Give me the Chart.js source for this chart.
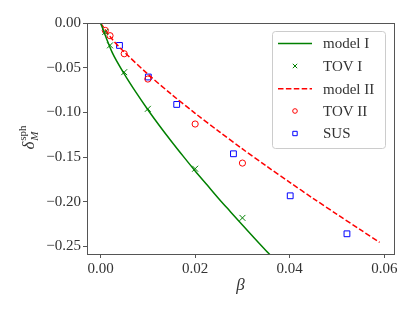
<!DOCTYPE html>
<html><head><meta charset="utf-8">
<script src="https://cdn.jsdelivr.net/npm/chart.js@4/dist/chart.umd.min.js"></script>
<style>html,body{margin:0;padding:0;background:#fff}#wrap{width:415px;height:311px}</style>
</head><body><div id="wrap"><canvas id="c" width="415" height="311"></canvas></div>
<script>
// ---- data ----
const modelIBeta  = [0, 0.0025, 0.005, 0.0075, 0.01, 0.0125, 0.015, 0.0175, 0.02, 0.0225, 0.025, 0.0275, 0.03, 0.0325, 0.035, 0.037];
const modelIDelta = [0, -0.0334, -0.0569, -0.0777, -0.097, -0.1152, -0.1325, -0.1492, -0.1655, -0.181, -0.1965, -0.2113, -0.226, -0.2405, -0.2547, -0.2655];
const tovIBeta  = [0.001, 0.002, 0.005, 0.01, 0.02, 0.03];
const tovIDelta = [-0.010, -0.025, -0.055, -0.096, -0.163, -0.218];
const modelIIBeta  = [0, 0.0025, 0.005, 0.01, 0.015, 0.02, 0.025, 0.03, 0.035, 0.04, 0.045, 0.05, 0.055, 0.059];
const modelIIDelta = [0, -0.0184, -0.0324, -0.0572, -0.0798, -0.101, -0.1212, -0.1409, -0.1598, -0.1782, -0.1964, -0.214, -0.2315, -0.2453];
const tovIIBeta  = [0.001, 0.002, 0.005, 0.01, 0.02, 0.03];
const tovIIDelta = [-0.0083, -0.0142, -0.0344, -0.0627, -0.113, -0.1567];
const susBeta  = [0.004, 0.0101, 0.0161, 0.0281, 0.0401, 0.0521];
const susDelta = [-0.0251, -0.0604, -0.0911, -0.1463, -0.1933, -0.2358];
const xTicks = [0, 0.02, 0.04, 0.06];
const yTicks = [0, -0.05, -0.10, -0.15, -0.20, -0.25];
const seriesLabels = ['model I', 'TOV I', 'model II', 'TOV II', 'SUS'];

const pts = (xs, ys) => xs.map((x, i) => ({x: x, y: ys[i]}));
const FONT = "'Liberation Serif', 'Times New Roman', serif";
const TXT = '#333333';
const AX = '#555555';
const fmt = v => { const s = Math.abs(v).toFixed(2); return (v < -1e-9 ? '\u2212' : '') + s; };

const frame = {
  id: 'frame',
  afterDraw(chart) {
    const {ctx, chartArea: a} = chart;
    ctx.save();
    ctx.strokeStyle = AX; ctx.lineWidth = 1;
    ctx.strokeRect(a.left + 0.5, a.top + 0.5, a.right - a.left, a.bottom - a.top);
    // axis titles
    ctx.fillStyle = TXT;
    ctx.textBaseline = 'middle'; ctx.textAlign = 'center';
    ctx.font = "italic 17px " + FONT;
    ctx.fillText('\u03B2', (a.left + a.right) / 2, 286);
    // y title: delta_M^sph
    ctx.translate(30, (a.top + a.bottom) / 2 - 1);
    ctx.rotate(-Math.PI / 2);
    ctx.textAlign = 'left'; ctx.textBaseline = 'alphabetic';
    ctx.font = "italic 17px " + FONT;
    const wd = ctx.measureText('\u03B4').width;
    ctx.font = "11px " + FONT;
    const ws = ctx.measureText('sph').width;
    const x0 = -(wd + ws + 1) / 2;
    ctx.font = "italic 17px " + FONT;
    ctx.fillText('\u03B4', x0, 4);
    ctx.font = "11px " + FONT;
    ctx.fillText('sph', x0 + wd + 1, -4);
    ctx.font = "italic 11px " + FONT;
    ctx.fillText('M', x0 + wd + 1, 8);
    ctx.restore();

    // legend
    const L = 272.5, T = 31.5, R = 385.5, B = 148.5;
    ctx.save();
    ctx.beginPath();
    ctx.roundRect(L, T, R - L, B - T, 3);
    ctx.fillStyle = 'rgba(255,255,255,0.8)'; ctx.fill();
    ctx.strokeStyle = '#cccccc'; ctx.lineWidth = 1; ctx.stroke();
    const rows = [43.5, 66, 88.8, 111, 133.5];
    const ds = chart.data.datasets;
    ds.forEach((d, i) => {
      const y = rows[i];
      ctx.save();
      if (d.showLine) {
        ctx.strokeStyle = d.borderColor; ctx.lineWidth = d.borderWidth;
        ctx.setLineDash(d.borderDash || []);
        ctx.beginPath(); ctx.moveTo(278, y); ctx.lineTo(312, y); ctx.stroke();
      } else {
        ctx.strokeStyle = d.borderColor; ctx.lineWidth = 1;
        const cx = 295;
        ctx.beginPath();
        if (d.pointStyle === 'crossRot') {
          ctx.moveTo(cx - 2.2, y - 2.2); ctx.lineTo(cx + 2.2, y + 2.2);
          ctx.moveTo(cx - 2.2, y + 2.2); ctx.lineTo(cx + 2.2, y - 2.2);
        } else if (d.pointStyle === 'circle') {
          ctx.arc(cx, y, 2.3, 0, Math.PI * 2);
        } else {
          ctx.rect(cx - 2.2, y - 2.2, 4.4, 4.4);
        }
        ctx.stroke();
      }
      ctx.restore();
      ctx.fillStyle = TXT; ctx.font = "15px " + FONT;
      ctx.textAlign = 'left'; ctx.textBaseline = 'middle';
      ctx.fillText(d.label, 323, y + 1);
    });
    ctx.restore();
  }
};

new Chart(document.getElementById('c'), {
  type: 'scatter',
  data: {
    datasets: [
      {label: seriesLabels[0], data: pts(modelIBeta, modelIDelta), showLine: true, borderColor: '#008000', borderWidth: 1.5, pointRadius: 0, pointHoverRadius: 0, fill: false, tension: 0.3},
      {label: seriesLabels[1], data: pts(tovIBeta, tovIDelta), showLine: false, pointStyle: 'crossRot', pointRadius: 4.2, borderColor: '#008000', backgroundColor: '#008000', pointBorderWidth: 1},
      {label: seriesLabels[2], data: pts(modelIIBeta, modelIIDelta), showLine: true, borderColor: '#ff0000', borderWidth: 1.5, borderDash: [5.5, 2.4], pointRadius: 0, pointHoverRadius: 0, fill: false, tension: 0.3},
      {label: seriesLabels[3], data: pts(tovIIBeta, tovIIDelta), showLine: false, pointStyle: 'circle', pointRadius: 3.1, borderColor: '#ff0000', backgroundColor: 'rgba(0,0,0,0)', pointBorderWidth: 1},
      {label: seriesLabels[4], data: pts(susBeta, susDelta), showLine: false, pointStyle: 'rect', pointRadius: 4.1, borderColor: '#0000ff', backgroundColor: 'rgba(0,0,0,0)', pointBorderWidth: 1}
    ]
  },
  options: {
    responsive: false, animation: false, devicePixelRatio: 1,
    layout: {padding: {left: 0, right: 21, top: 23, bottom: 0}},
    plugins: {legend: {display: false}, tooltip: {enabled: false}},
    scales: {
      x: {
        type: 'linear', min: -0.00287, max: 0.06205,
        afterBuildTicks: s => { s.ticks = xTicks.map(v => ({value: v})); },
        afterFit: s => { s.height = 57; },
        grid: {drawOnChartArea: false, drawTicks: true, tickLength: 4, color: AX},
        border: {display: true, color: AX, width: 1},
        ticks: {callback: v => fmt(v), font: {family: FONT, size: 15}, color: TXT, padding: 2, maxRotation: 0}
      },
      y: {
        type: 'linear', min: -0.2584, max: 0,
        afterBuildTicks: s => { s.ticks = yTicks.map(v => ({value: v})); },
        afterFit: s => { s.width = 87; },
        grid: {drawOnChartArea: false, drawTicks: true, tickLength: 4, color: AX},
        border: {display: true, color: AX, width: 1},
        ticks: {callback: v => fmt(v), font: {family: FONT, size: 15}, color: TXT, padding: 2}
      }
    }
  },
  plugins: [frame]
});
</script>
</body></html>
